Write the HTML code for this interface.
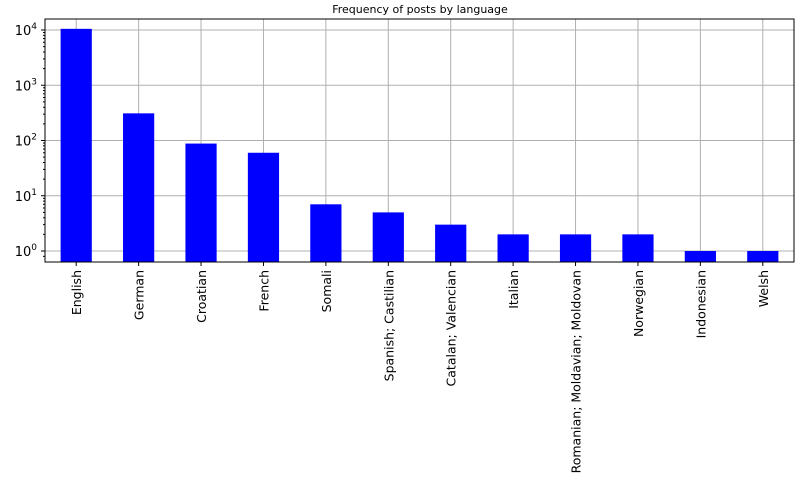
<!DOCTYPE html>
<html><head><meta charset="utf-8"><style>
body{margin:0;background:#fff;}
svg{display:block;font-family:"DejaVu Sans","Liberation Sans",sans-serif;}
</style></head><body>
<svg id="chart" width="812" height="482">
<text x="420" y="13" font-size="11" text-anchor="middle">Frequency of posts by language</text>
<g id="grid"></g><g id="bars"></g><g id="axes"></g>
</svg>
<script>
const categories=["English","German","Croatian","French","Somali","Spanish; Castilian","Catalan; Valencian","Italian","Romanian; Moldavian; Moldovan","Norwegian","Indonesian","Welsh"];
const counts=[10500,310,88,60,7,5,3,2,2,2,1,1];
const tickExps=[0,1,2,3,4];
const L=45,R=794,T=19,B=262;
const y0=251,dec=55.25;
function yScale(v){return y0-Math.log10(v)*dec;}
const step=(R-L)/categories.length;
function xCenter(i){return L+step*(i+0.5);}
const NS="http://www.w3.org/2000/svg";
function mk(tag,attrs,parent,txt){const e=document.createElementNS(NS,tag);for(const k in attrs)e.setAttribute(k,attrs[k]);if(txt!==undefined)e.textContent=txt;parent.appendChild(e);return e;}
const grid=document.getElementById('grid'),bars=document.getElementById('bars'),axes=document.getElementById('axes');
tickExps.forEach(e=>{const y=yScale(Math.pow(10,e));
 const g=mk('line',{x1:L,x2:R,y1:y,y2:y,stroke:'#b0b0b0','stroke-width':1},grid);
 
 
 mk('line',{x1:L-4,x2:L,y1:y,y2:y,stroke:'#000'},axes);
 const t=mk('text',{x:L-8,y:y+5,'font-size':13,'text-anchor':'end'},axes);
 
 
 t.appendChild(document.createTextNode('10'));
 mk('tspan',{dy:-6,'font-size':9},t,String(e));
 for(let m=2;m<10;m++){const yy=yScale(m*Math.pow(10,e));if(yy>T&&yy<B)mk('line',{x1:L-2,x2:L,y1:yy,y2:yy,stroke:'#000'},axes);}
});
const m2=yScale(0.8);mk('line',{x1:L-2,x2:L,y1:m2,y2:m2,stroke:'#000'},axes);
categories.forEach((c,i)=>{const x=xCenter(i);
 const gl=mk('line',{x1:x,x2:x,y1:T,y2:B,stroke:'#b0b0b0','stroke-width':1},grid);
 
 
 const w=step*0.5,yt=yScale(counts[i]);
 const b=mk('rect',{x:x-w/2,y:yt,width:w,height:B-yt,fill:'#0000ff'},bars);
 
 
 mk('line',{x1:x,x2:x,y1:B,y2:B+4,stroke:'#000'},axes);
 const t=mk('text',{transform:`translate(${x+5},${B+8}) rotate(-90)`,'font-size':12.5,'text-anchor':'end'},axes,c);
 
 
});
const f=mk('rect',{x:L,y:T,width:R-L,height:B-T,fill:'none',stroke:'#000','stroke-width':1},axes);


</script>
</body></html>
